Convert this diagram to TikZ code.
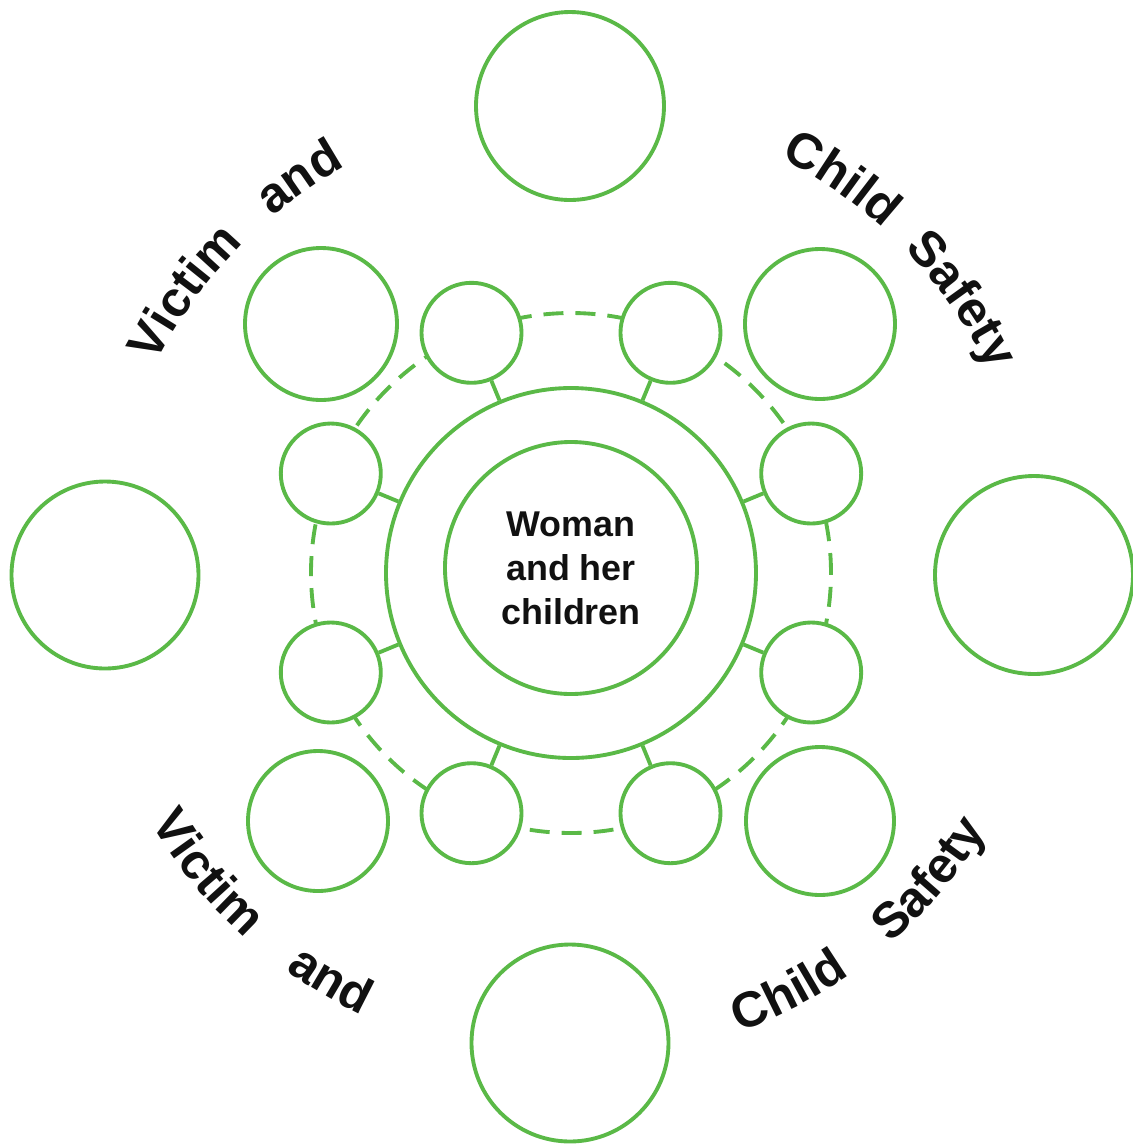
\documentclass[tikz,border=0pt]{standalone}
\usepackage{fontspec}
\setmainfont{Liberation Sans}
\usetikzlibrary{calc,decorations.text}
\definecolor{ringline}{HTML}{5AB947}
\definecolor{inkblack}{HTML}{111111}
\newcommand{\wordfont}{\fontsize{14.2}{17}\selectfont\bfseries}

\begin{document}
\begin{tikzpicture}[
  x=0.1mm, y=0.1mm,
  font=\bfseries,
  ring/.style    = {circle, draw=ringline, line width=1.1pt, inner sep=0pt, fill=white},
  orbit/.style   = {circle, draw=ringline, line width=1.1pt, inner sep=0pt,
                    dash pattern=on 2mm off 1.2mm},
  sat/.style     = {ring, minimum size=10mm},
  spoke/.style   = {draw=ringline, line width=1.1pt},
  topword/.style = {decorate, decoration={text along path, text align=center,
                    text color=inkblack, text={|\wordfont|#1}}},
]
\useasboundingbox (0,0) rectangle (1133,-1144);

% --- the middle: woman and her children --------------------------------------------------------
\node[orbit, minimum size=52mm] (orbit) at (571,-573) {};
\node[ring, minimum size=37mm]  (ring)  at (571,-573) {};
\node[ring, minimum size=25.2mm, align=center, text=inkblack,
      font=\fontsize{10.2}{12.5}\selectfont\bfseries] (woman) at (571,-568)
  {Woman\\and her\\children};

% --- eight small circles on the dashed ring ----------------------------------------------------
\node[sat] (s1) at ($(ring)+(22.5:260)$)  {};
\node[sat] (s2) at ($(ring)+(67.5:260)$)  {};
\node[sat] (s3) at ($(ring)+(112.5:260)$) {};
\node[sat] (s4) at ($(ring)+(157.5:260)$) {};
\node[sat] (s5) at ($(ring)+(202.5:260)$) {};
\node[sat] (s6) at ($(ring)+(247.5:260)$) {};
\node[sat] (s7) at ($(ring)+(292.5:260)$) {};
\node[sat] (s8) at ($(ring)+(337.5:260)$) {};

\draw[spoke] (s1) -- (ring);
\draw[spoke] (s2) -- (ring);
\draw[spoke] (s3) -- (ring);
\draw[spoke] (s4) -- (ring);
\draw[spoke] (s5) -- (ring);
\draw[spoke] (s6) -- (ring);
\draw[spoke] (s7) -- (ring);
\draw[spoke] (s8) -- (ring);

% --- the outer circles -------------------------------------------------------------------------
\node[ring, minimum size=18.8mm] (north) at (570,-106)  {};
\node[ring, minimum size=18.7mm] (west)  at (105,-575)  {};
\node[ring, minimum size=19.8mm] (east)  at (1034,-575) {};
\node[ring, minimum size=19.7mm] (south) at (570,-1043) {};

\node[ring, minimum size=15.2mm] (nw) at (321,-324) {};
\node[ring, minimum size=15.0mm] (ne) at (820,-324) {};
\node[ring, minimum size=14.0mm] (sw) at (318,-821) {};
\node[ring, minimum size=14.8mm] (se) at (820,-821) {};

% --- the words round the edge ------------------------------------------------------------------
\path[topword=Victim] ($(ring)+(164:465)$) arc[start angle=164, end angle=124, radius=465];
\path[topword=and]    ($(ring)+(144.5:465)$) arc[start angle=144.5, end angle=104.5, radius=465];
\path[topword=Child]  ($(ring)+(75.5:465)$) arc[start angle=75.5, end angle=35.5, radius=465];
\path[topword=Safety] ($(ring)+(55:465)$) arc[start angle=55, end angle=15, radius=465];

\path[topword=Victim] ($(ring)+(-160.5:489)$) arc[start angle=-160.5, end angle=-120.5, radius=489];
\path[topword=and]    ($(ring)+(-140.5:489)$) arc[start angle=-140.5, end angle=-100.5, radius=489];
\path[topword=Child]  ($(ring)+(-82.5:489)$) arc[start angle=-82.5, end angle=-42.5, radius=489];
\path[topword=Safety] ($(ring)+(-60.5:489)$) arc[start angle=-60.5, end angle=-20.5, radius=489];

\end{tikzpicture}
\end{document}
